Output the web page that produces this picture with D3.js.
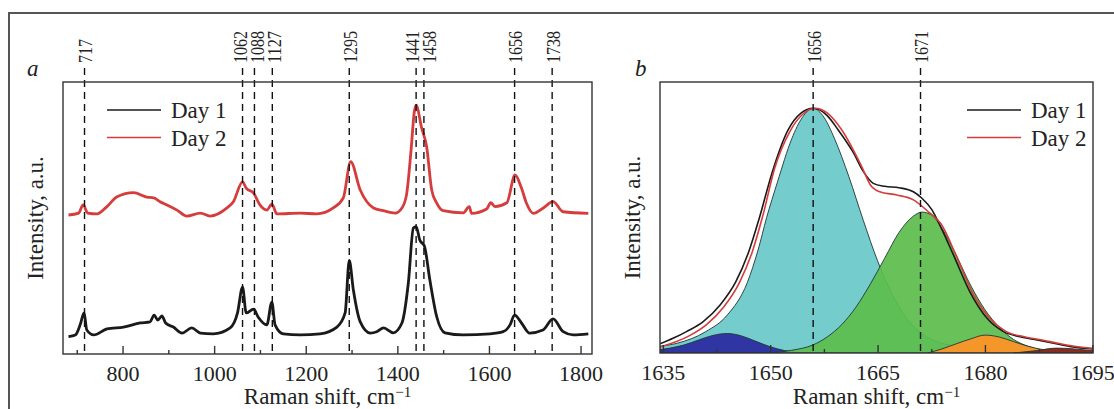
<!DOCTYPE html>
<html>
<head>
<meta charset="utf-8">
<script src="https://cdn.jsdelivr.net/npm/d3@7"></script>
<style>
  body { margin: 0; background: #fff; }
  svg text { font-family: "Liberation Serif", "DejaVu Serif", serif; fill: #222; }
</style>
</head>
<body>
<svg id="chart" width="1114" height="409"></svg>
<script>
// ---- data ----
var series = ["Day 1", "Day 2"];
var seriesColor = ["#1a1a1a", "#d63c3c"];

// panel a: Raman spectra (shift, intensity a.u.), Day 2 is offset upward
var day1A = [[682,6.4],[697,7.0],[708,11],[716,15.1],[722,8.8],[737,7.0],[766,9.2],[802,9.9],[839,11.4],[860,11.8],
  [869,14.3],[877,12.5],[886,14.0],[894,11.4],[911,9.9],[930,7.7],[951,9.6],[970,7.7],[998,7.4],[1035,9.6],
  [1051,15.1],[1062,24.6],[1070,15.1],[1086,16.5],[1096,13.6],[1115,10.7],[1126,19.1],[1133,10.7],[1151,7.4],
  [1188,7.0],[1231,7.4],[1268,9.9],[1286,15.1],[1295,34.4],[1304,23.5],[1319,11.8],[1341,7.7],[1355,8.2],
  [1370,9.6],[1391,7.8],[1410,11.4],[1424,26.1],[1435,46.3],[1441,46.8],[1449,41.9],[1459,39.7],[1471,27.2],
  [1486,13.7],[1504,7.8],[1544,7.0],[1602,7.4],[1631,8.2],[1646,10.7],[1656,14.3],[1671,11.4],[1689,7.7],
  [1718,8.8],[1740,12.9],[1762,8.2],[1784,7.0],[1817,7.4]];
var day2A = [[682,51.1],[704,51.8],[714,54.8],[724,51.8],[744,51.5],[766,54.2],[788,57.8],[824,59.3],[853,57.7],
  [868,57.4],[882,56.0],[897,54.8],[919,52.9],[940,50.7],[970,51.8],[991,50.7],[1028,53.7],[1042,56.0],
  [1062,63.3],[1070,61.0],[1086,59.2],[1100,54.8],[1115,52.9],[1126,55.1],[1137,51.5],[1188,51.8],[1224,51.5],
  [1260,53.7],[1282,57.4],[1298,70.7],[1319,60.3],[1348,53.7],[1369,52.7],[1395,51.8],[1410,53.7],[1420,58.5],
  [1430,75.0],[1437,89.0],[1441,91.5],[1453,83.1],[1464,76.2],[1475,60.3],[1486,55.5],[1500,52.7],[1544,51.9],
  [1557,54.2],[1562,51.7],[1595,53.3],[1604,55.6],[1613,54.2],[1639,55.6],[1657,65.8],[1671,61.0],[1682,55.4],
  [1697,51.7],[1718,53.6],[1740,56.0],[1762,52.3],[1817,51.7]];
var bandsA = [717, 1062, 1088, 1127, 1295, 1441, 1458, 1656, 1738];
var ticksA = [800, 1000, 1200, 1400, 1600, 1800];
var minorA = [700, 900, 1100, 1300, 1500, 1700];

// panel b: amide I region, envelopes and fitted components
var day1B = [[1634.6,3.4],[1636.5,5.5],[1638.3,7.9],[1640.6,11.5],[1643,17.7],[1645.2,26.3],[1647,37.4],[1648.5,50],
  [1650.2,66],[1652.5,82.3],[1654.3,88.5],[1656,90.3],[1658,87.5],[1659.5,82.3],[1661.6,74],[1663,67],[1664.4,62.6],
  [1666,61.5],[1668,61.0],[1670,59.5],[1671.2,57.1],[1672.6,52.8],[1673.7,47.2],[1675.6,36.2],[1677.9,22.6],
  [1680.3,12.8],[1682.6,7.9],[1684.9,6.0],[1687.3,4.8],[1689.6,3.6],[1692,2.3],[1695.1,1.5]];
var day2B = [[1634.6,2.2],[1638.8,6.5],[1641.1,10.5],[1643.5,17],[1645.7,26],[1647.5,37.4],[1649,51],[1650.6,68],
  [1652.8,82],[1654.5,88],[1656.3,90.3],[1658,88.5],[1660,82.3],[1662.8,68.7],[1664,62],[1665.3,59.5],[1667.7,58.3],
  [1670,56.5],[1672.1,52.1],[1673.9,47.5],[1675.9,36.5],[1678.2,22.6],[1680.7,12.8],[1683,7.9],[1685.5,6.0],
  [1688,4.8],[1690.2,3.6],[1692.5,2.5],[1695.1,1.7]];
var compCyan = [[1634.6,2.5],[1637,3.6],[1641,7.9],[1644,14],[1646.8,26],[1648.3,38],[1649.5,50],[1651,63],[1653,79],
  [1654.5,87],[1656,90.3],[1657.5,87],[1659,79],[1661,65],[1663,49],[1665,34],[1667,22],[1669,13],[1671,7.5],
  [1673,4.5],[1676,2.5],[1680,1.2],[1685,0.5],[1690,0]];
var compBlue = [[1634.6,1.2],[1636,1.8],[1638,3],[1640,4.8],[1642,6.5],[1644,7.2],[1646,6.3],[1648,4.3],[1650,2.3],
  [1652,0.9],[1654,0.2],[1656,0]];
var compGreen = [[1650,0],[1653,1],[1656,3],[1658,6],[1660,10.5],[1662,17],[1664,25.5],[1666,35],[1668,44.5],
  [1670,50.5],[1671.2,52],[1672.5,51],[1674,46],[1676,36],[1678,25],[1680,16],[1682,9.5],[1684,5],[1686,2.5],
  [1688,1],[1691,0.2],[1693,0]];
var compOrange = [[1672,0],[1674,1.5],[1676,3.4],[1678,5.2],[1680,6.6],[1682,5.9],[1684,4.2],[1686,2.5],[1688,1.3],
  [1690,0.6],[1693,0.1],[1695,0]];
var compRed = [[1684,0],[1687,0.8],[1690,1.8],[1692.5,1.5],[1695.1,0.8]];
// drawn in this order: cyan underneath, small bands on top
var components = [compCyan, compBlue, compGreen, compOrange, compRed];
var compColor = ["#74cccd", "#2f36a3", "#5cbd4c", "#f5962b", "#8c2a1e"];
var bandsB = [1656, 1671];
var ticksB = [1635, 1650, 1665, 1680, 1695];
var minorB = [1642.5, 1657.5, 1672.5, 1687.5];

// ---- drawing ----
var svg = d3.select("#chart");

// outer frame (only top and left visible)
svg.append("path").attr("d", "M9,409V13H1114")
  .attr("fill", "none").attr("stroke", "#555").attr("stroke-width", 2);

function panel(opt) {
  var x = d3.scaleLinear().domain(opt.domain).range([opt.left, opt.right]);
  var y = d3.scaleLinear().domain([0, 100]).range([opt.bottom, opt.top]);
  var g = svg.append("g");

  g.append("clipPath").attr("id", opt.id + "_clip").append("rect")
    .attr("x", opt.left).attr("y", opt.top)
    .attr("width", opt.right - opt.left).attr("height", opt.bottom - opt.top);

  var plot = g.append("g").attr("clip-path", "url(#" + opt.id + "_clip)");

  // fitted components (panel b)
  if (opt.components) {
    var area = d3.area().x(d => x(d[0])).y0(y(0)).y1(d => y(d[1])).curve(d3.curveMonotoneX);
    plot.selectAll(".comp").data(opt.components).join("path")
      .attr("class", "comp")
      .attr("d", area)
      .attr("fill", (d, i) => compColor[i])
      .attr("fill-opacity", (d, i) => i == 2 ? 0.93 : 1)
      .attr("stroke", "#1f3535").attr("stroke-width", 0.9);
  }

  // band markers
  g.selectAll(".band").data(opt.bands).join("line")
    .attr("class", "band")
    .attr("x1", d => x(d)).attr("x2", d => x(d))
    .attr("y1", 68).attr("y2", opt.bottom)
    .attr("stroke", "#111").attr("stroke-width", 1.4).attr("stroke-dasharray", "7,5");

  // labels sit on the marker, pushed apart where markers crowd
  var pos = opt.bands.map(d => x(d) + 1);
  for (var k = 0; k < 20; k++) {
    for (var i = 1; i < pos.length; i++) {
      var gap = pos[i] - pos[i - 1];
      if (gap < 17) { pos[i - 1] -= (17 - gap) / 2; pos[i] += (17 - gap) / 2; }
    }
  }
  g.selectAll(".band_label").data(opt.bands).join("text")
    .attr("class", "band_label")
    .attr("transform", (d, i) => `translate(${pos[i]},63) rotate(-90)`)
    .attr("dy", "0.35em")
    .style("font-size", "19px")
    .attr("textLength", d => String(d).length * 8)
    .attr("lengthAdjust", "spacingAndGlyphs")
    .text(d => d);

  // spectra
  var line = d3.line().x(d => x(d[0])).y(d => y(d[1])).curve(d3.curveMonotoneX);
  plot.selectAll(".spec").data(opt.lines).join("path")
    .attr("class", "spec")
    .attr("d", line)
    .attr("fill", "none")
    .attr("stroke", (d, i) => seriesColor[i])
    .attr("stroke-width", opt.lineWidth)
    .attr("stroke-linejoin", "round");

  // frame
  g.append("rect")
    .attr("x", opt.left).attr("y", opt.top)
    .attr("width", opt.right - opt.left).attr("height", opt.bottom - opt.top)
    .attr("fill", "none").attr("stroke", "#333").attr("stroke-width", 1.4);

  // axes, ticks pointing inward
  var ax = g.append("g").attr("transform", `translate(0,${opt.bottom})`)
    .call(d3.axisBottom(x).tickValues(opt.ticks).tickSize(-8).tickPadding(11).tickFormat(d3.format("d")));
  ax.select(".domain").remove();
  ax.selectAll("line").attr("stroke", "#333").attr("stroke-width", 1.4);
  ax.selectAll("text").style("font-size", "22px").style("font-family", null).attr("fill", "#222");

  var mx = g.append("g").attr("transform", `translate(0,${opt.bottom})`)
    .call(d3.axisBottom(x).tickValues(opt.minor).tickSize(-4).tickFormat(""));
  mx.select(".domain").remove();
  mx.selectAll("line").attr("stroke", "#333").attr("stroke-width", 1.4);

  // axis titles
  var xt = g.append("text")
    .attr("x", (opt.left + opt.right) / 2)
    .attr("y", 404)
    .style("font-size", "23px")
    .style("text-anchor", "middle");
  xt.append("tspan").text("Raman shift, cm");
  xt.append("tspan").attr("dy", -7).style("font-size", "15px").text("\u22121");

  g.append("text")
    .attr("transform", `translate(${opt.left - 20},${(opt.top + opt.bottom) / 2}) rotate(-90)`)
    .style("font-size", "23px")
    .style("text-anchor", "middle")
    .text("Intensity, a.u.");

  g.append("text")
    .attr("x", opt.letterX).attr("y", 76)
    .style("font-size", "23px")
    .style("font-style", "italic")
    .text(opt.letter);

  // legend
  var lg = g.selectAll(".legend").data(series).join("g")
    .attr("class", "legend")
    .attr("transform", (d, i) => `translate(${opt.legendX},${110 + i * 27.5})`);
  lg.append("line").attr("x1", 0).attr("x2", 54)
    .attr("stroke", (d, i) => seriesColor[i]).attr("stroke-width", 1.3);
  lg.append("text").attr("x", 64).attr("y", 8)
    .style("font-size", "23px")
    .text(d => d);
}

panel({
  id: "a", letter: "a", letterX: 27,
  domain: [670, 1825], left: 63, right: 592, top: 82, bottom: 354,
  lines: [day1A, day2A], lineWidth: 2.8,
  bands: bandsA, ticks: ticksA, minor: minorA, legendX: 107
});

panel({
  id: "b", letter: "b", letterX: 635,
  domain: [1634.6, 1695.1], left: 660, right: 1093, top: 82, bottom: 353,
  lines: [day1B, day2B], lineWidth: 1.6, components: components,
  bands: bandsB, ticks: ticksB, minor: minorB, legendX: 967
});
</script>
</body>
</html>
